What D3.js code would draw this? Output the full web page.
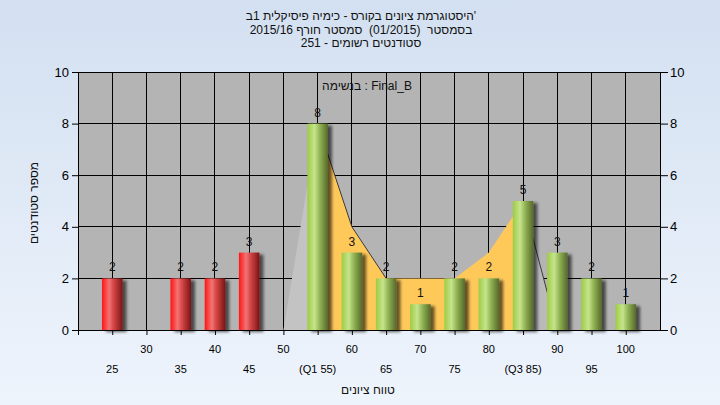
<!DOCTYPE html>
<html>
<head>
<meta charset="utf-8">
<script src="https://cdn.jsdelivr.net/npm/d3@7"></script>
<style>
  html, body { margin: 0; padding: 0; }
  body { width: 720px; height: 405px; overflow: hidden; }
  text { font-family: "Liberation Sans", Arial, "DejaVu Sans", sans-serif; white-space: pre; }
</style>
</head>
<body>
<svg id="chart" width="720" height="405"></svg>
<script>
// ---- data ----
const titleLines = [
  "'היסטוגרמת ציונים בקורס - כימיה פיסיקלית 1ב",
  "בסמסטר  (01/2015)  סמסטר חורף 2015/16",
  "סטודנטים רשומים - 251"
];
const legendText = "Final_B : בנשימה";
const yTitle = "מספר סטודנטים";
const xTitle = "טווח ציונים";

const scores = [25, 30, 35, 40, 45, 50, 55, 60, 65, 70, 75, 80, 85, 90, 95, 100];
const counts = [2, 0, 2, 2, 3, 0, 8, 3, 2, 1, 2, 2, 5, 3, 2, 1];
const tickLabels = ["25", "30", "35", "40", "45", "50", "(Q1 55)", "60", "65", "70", "75", "80", "(Q3 85)", "90", "95", "100"];
const yTicks = [0, 2, 4, 6, 8, 10];
const failBelow = 55;

const curveScores = [45, 50, 55, 60, 65, 70, 75, 80, 85, 90, 95, 100];
const curveValues = [0, 0, 8, 4, 2, 2, 2, 3, 5, 0, 0, 0];
const q1 = 55, q3 = 85;

// ---- layout ----
const svg = d3.select("#chart");
const L = 78, R = 660, T = 72, B = 330;
const x = d3.scaleLinear().domain([20, 105]).range([L, R]);
const y = d3.scaleLinear().domain([0, 10]).range([B, T]);
const step = x(25) - x(20);
const barW = step * 0.6;

const defs = svg.append("defs");
const bg = defs.append("linearGradient").attr("id", "bg").attr("x1", 0).attr("y1", 0).attr("x2", 0).attr("y2", 1);
bg.append("stop").attr("offset", "0%").attr("stop-color", "#d3e0f1");
bg.append("stop").attr("offset", "100%").attr("stop-color", "#eef4fc");

function cyl(id, stops) {
  const g = defs.append("linearGradient").attr("id", id).attr("x1", 0).attr("y1", 0).attr("x2", 1).attr("y2", 0);
  stops.forEach(s => g.append("stop").attr("offset", s[0]).attr("stop-color", s[1]));
}
cyl("gRed", [["0%", "#ff1414"], ["35%", "#f27474"], ["55%", "#d84848"], ["100%", "#7c1414"]]);
cyl("gGreen", [["0%", "#9ccc44"], ["35%", "#c6e48c"], ["60%", "#92b455"], ["100%", "#55692b"]]);

const sh = defs.append("filter").attr("id", "shadow").attr("x", "-20%").attr("y", "-10%").attr("width", "160%").attr("height", "130%");
sh.append("feDropShadow").attr("dx", 4).attr("dy", 2).attr("stdDeviation", 1.8)
  .attr("flood-color", "#000").attr("flood-opacity", 0.6);

svg.append("rect").attr("width", 720).attr("height", 405).attr("fill", "url(#bg)");
svg.append("rect").attr("x", L).attr("y", T).attr("width", R - L).attr("height", B - T).attr("fill", "#b4b4b4");

// grid
svg.append("g").selectAll("line").data(yTicks).join("line")
  .attr("x1", L).attr("x2", R).attr("y1", d => y(d)).attr("y2", d => y(d))
  .attr("stroke", "#000").attr("stroke-width", 1).attr("shape-rendering", "crispEdges");
svg.append("g").selectAll("line").data(scores).join("line")
  .attr("x1", d => x(d)).attr("x2", d => x(d)).attr("y1", T).attr("y2", B)
  .attr("stroke", "#000").attr("stroke-width", 1).attr("shape-rendering", "crispEdges");
svg.append("line").attr("x1", R).attr("x2", R).attr("y1", T).attr("y2", B).attr("stroke", "#000").attr("shape-rendering", "crispEdges");

// area curve
const pts = curveScores.map((s, i) => ({ s, v: curveValues[i] }));
const area = d3.area().x(d => x(d.s)).y0(y(0)).y1(d => y(d.v));
svg.append("path").datum(pts.filter(d => d.s <= q1)).attr("d", area).attr("fill", "#c3c3c3");
svg.append("path").datum(pts.filter(d => d.s >= q1 && d.s <= q3)).attr("d", area).attr("fill", "#ffc95a");
svg.append("path").datum(pts.filter(d => d.s >= q3)).attr("d", area).attr("fill", "#bababa");
const line = d3.line().x(d => x(d.s)).y(d => y(d.v));
const downSegs = [];
for (let i = 0; i < pts.length - 1; i++) if (pts[i + 1].v < pts[i].v) downSegs.push([pts[i], pts[i + 1]]);
svg.append("g").selectAll("path").data(downSegs).join("path")
  .attr("d", line).attr("fill", "none").attr("stroke", "#3a3a3a").attr("stroke-width", 1);

// bars
const bars = scores.map((s, i) => ({ s, c: counts[i] })).filter(d => d.c > 0);
svg.append("g").selectAll("rect").data(bars).join("rect")
  .attr("x", d => x(d.s) - barW / 2).attr("width", barW)
  .attr("y", d => y(d.c)).attr("height", d => y(0) - y(d.c))
  .attr("fill", d => d.s < failBelow ? "url(#gRed)" : "url(#gGreen)")
  .attr("filter", "url(#shadow)");
svg.append("g").selectAll("text").data(bars).join("text")
  .attr("x", d => x(d.s)).attr("y", d => y(d.c) - 7)
  .attr("text-anchor", "middle").attr("font-size", 12).attr("fill", "#111")
  .text(d => d.c);

// axes
const axisColor = "#000";
svg.append("line").attr("x1", L).attr("x2", R).attr("y1", B).attr("y2", B).attr("stroke", axisColor).attr("shape-rendering", "crispEdges");
svg.append("line").attr("x1", L).attr("x2", L).attr("y1", T).attr("y2", B + 5).attr("stroke", axisColor).attr("shape-rendering", "crispEdges");

const yl = svg.append("g").attr("transform", `translate(${L},0)`).call(d3.axisLeft(y).tickValues(yTicks).tickSize(6).tickPadding(3));
const yr = svg.append("g").attr("transform", `translate(${R},0)`).call(d3.axisRight(y).tickValues(yTicks).tickSize(8).tickPadding(2));
[yl, yr].forEach(g => {
  g.select(".domain").remove();
  g.selectAll("line").attr("stroke", axisColor);
  g.selectAll("text").attr("font-size", 13).attr("fill", "#000").style("font-family", '"Liberation Sans", Arial, sans-serif');
});

const xa = svg.append("g").attr("transform", `translate(0,${B})`)
  .call(d3.axisBottom(x).tickValues(scores).tickSize(5).tickFormat(""));
xa.select(".domain").remove();
xa.selectAll("line").attr("stroke", axisColor);
svg.append("g").selectAll("text").data(scores).join("text")
  .attr("x", d => x(d)).attr("y", (d, i) => i % 2 === 1 ? 352.5 : 373)
  .attr("text-anchor", "middle").attr("font-size", 11).attr("fill", "#000")
  .text((d, i) => tickLabels[i]);

// titles
svg.append("g").selectAll("text").data(titleLines).join("text")
  .attr("x", 361).attr("y", (d, i) => 20 + i * 13.5)
  .attr("text-anchor", "middle").attr("direction", "rtl").attr("font-size", 12).attr("fill", "#111")
  .text(d => d);
svg.append("text").attr("x", 367).attr("y", 90).attr("text-anchor", "middle").attr("direction", "rtl")
  .attr("font-size", 12).attr("fill", "#111").text(legendText);
svg.append("text").attr("x", 368).attr("y", 394).attr("text-anchor", "middle").attr("direction", "rtl")
  .attr("font-size", 12).attr("fill", "#111").text(xTitle);
svg.append("text").attr("transform", "translate(38,203) rotate(-90)").attr("text-anchor", "middle").attr("direction", "rtl")
  .attr("font-size", 12).attr("fill", "#111").text(yTitle);
</script>
</body>
</html>
